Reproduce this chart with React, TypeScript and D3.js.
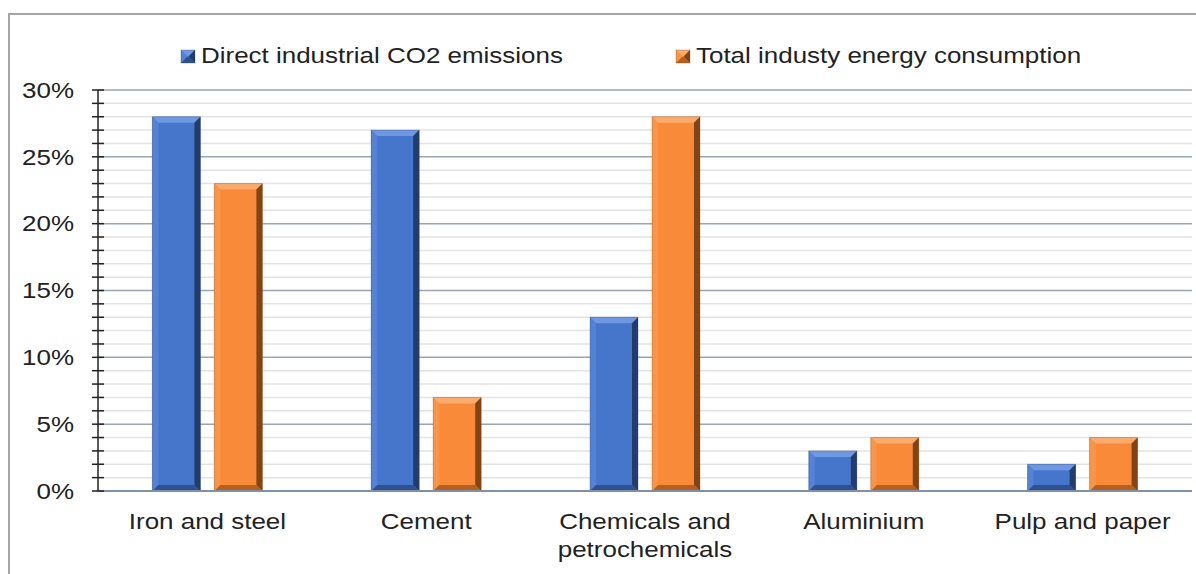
import React from "react";
import * as d3 from "d3";

const categories: string[][] = [
  ["Iron and steel"],
  ["Cement"],
  ["Chemicals and", "petrochemicals"],
  ["Aluminium"],
  ["Pulp and paper"],
];
const seriesNames = ["Direct industrial CO2 emissions", "Total industy energy consumption"];
const directCO2 = [28, 27, 13, 3, 2];
const energyUse = [23, 7, 28, 4, 4];
const yMajorTicks = [0, 5, 10, 15, 20, 25, 30];
const yMinorTicks = d3.range(0, 31, 1);

const W = 1196;
const H = 574;
const left = 98;
const right = 1192;
const top = 90;
const bottom = 491;
// text is drawn slightly wide
const SX = 1.18;

const palettes = [
  { base: "#4676cc", light: "#6f98e2", lighter: "#5582d4", dark: "#2f518f", darker: "#223c6c" },
  { base: "#f98a3a", light: "#fbab6c", lighter: "#fa9448", dark: "#b5601f", darker: "#824415" },
];

function BevelBar({ x, y, w, h, p }: { x: number; y: number; w: number; h: number; p: typeof palettes[0] }) {
  const b = Math.min(6, h / 2, w / 2);
  const x2 = x + w;
  const y2 = y + h;
  return (
    <g>
      <rect x={x} y={y} width={w} height={h} fill={p.base} />
      <polygon points={`${x},${y} ${x2},${y} ${x2 - b},${y + b} ${x + b},${y + b}`} fill={p.light} />
      <polygon points={`${x},${y} ${x + b},${y + b} ${x + b},${y2 - b} ${x},${y2}`} fill={p.lighter} />
      <polygon points={`${x2},${y} ${x2},${y2} ${x2 - b},${y2 - b} ${x2 - b},${y + b}`} fill={p.darker} />
      <polygon points={`${x},${y2} ${x + b},${y2 - b} ${x2 - b},${y2 - b} ${x2},${y2}`} fill={p.dark} />
      <rect x={x} y={y} width={w} height={h} fill="none" stroke={p.darker} strokeOpacity={0.3} strokeWidth={1} />
    </g>
  );
}

function WideText({ x, y, anchor, children, dy }: { x: number; y: number; anchor?: string; children: React.ReactNode; dy?: string }) {
  return (
    <g transform={`translate(${x},${y}) scale(${SX},1)`}>
      <text x={0} y={0} dy={dy} textAnchor={anchor ?? "start"} fontSize={22} fill="#222">
        {children}
      </text>
    </g>
  );
}

export default function App() {
  const xBand = d3
    .scaleBand<number>()
    .domain(d3.range(categories.length))
    .range([left, right])
    .paddingInner(0)
    .paddingOuter(0);
  const y = d3.scaleLinear().domain([0, 30]).range([bottom, top]);
  const barW = 48;
  const gap = 14;
  const series = [directCO2, energyUse];
  const font = "'Liberation Sans', Arial, sans-serif";

  return (
    <svg width={W} height={H} style={{ position: "absolute", left: 0, top: 0, background: "#fff" }} fontFamily={font}>
      <rect x={9} y={14} width={W + 10} height={H} fill="#fff" stroke="#a6a6a6" strokeWidth={2} />

      {/* minor gridlines */}
      {yMinorTicks.filter((t) => t % 5 !== 0).map((t) => (
        <line key={"mn" + t} x1={left} x2={right} y1={y(t)} y2={y(t)} stroke="#e3e3e3" strokeWidth={1.5} />
      ))}
      {/* major gridlines */}
      {yMajorTicks.filter((t) => t > 0).map((t) => (
        <line key={"mj" + t} x1={left} x2={right} y1={y(t)} y2={y(t)} stroke="#9aa5b8" strokeWidth={1.5} />
      ))}

      {/* bars */}
      {categories.map((_, i) => {
        const cx = (xBand(i) ?? 0) + xBand.bandwidth() / 2;
        const groupW = barW * 2 + gap;
        return series.map((vals, s) => {
          const bx = cx - groupW / 2 + s * (barW + gap);
          const by = y(vals[i]);
          return <BevelBar key={`b${i}-${s}`} x={bx} y={by} w={barW} h={y(0) - by} p={palettes[s]} />;
        });
      })}

      {/* baseline */}
      <line x1={left} x2={right} y1={y(0)} y2={y(0)} stroke="#8190aa" strokeWidth={2} />

      {/* y axis */}
      <line x1={left} x2={left} y1={y(30)} y2={y(0)} stroke="#222" strokeWidth={1.5} />
      {yMinorTicks.map((t) => (
        <line key={"tk" + t} x1={left - 6} x2={left + 6} y1={y(t)} y2={y(t)} stroke="#222" strokeWidth={1.5} />
      ))}
      {yMajorTicks.map((t) => (
        <WideText key={"yl" + t} x={74} y={y(t)} dy="0.35em" anchor="end">
          {t}%
        </WideText>
      ))}

      {/* category labels */}
      {categories.map((lines, i) => {
        const cx = (xBand(i) ?? 0) + xBand.bandwidth() / 2;
        return lines.map((ln, k) => (
          <WideText key={`cl${i}-${k}`} x={cx} y={529 + k * 28} anchor="middle">
            {ln}
          </WideText>
        ));
      })}

      {/* legend */}
      <BevelBar x={181} y={50} w={14} h={13} p={palettes[0]} />
      <WideText x={201} y={63}>{seriesNames[0]}</WideText>
      <BevelBar x={676} y={50} w={14} h={13} p={palettes[1]} />
      <WideText x={696} y={63}>{seriesNames[1]}</WideText>
    </svg>
  );
}
